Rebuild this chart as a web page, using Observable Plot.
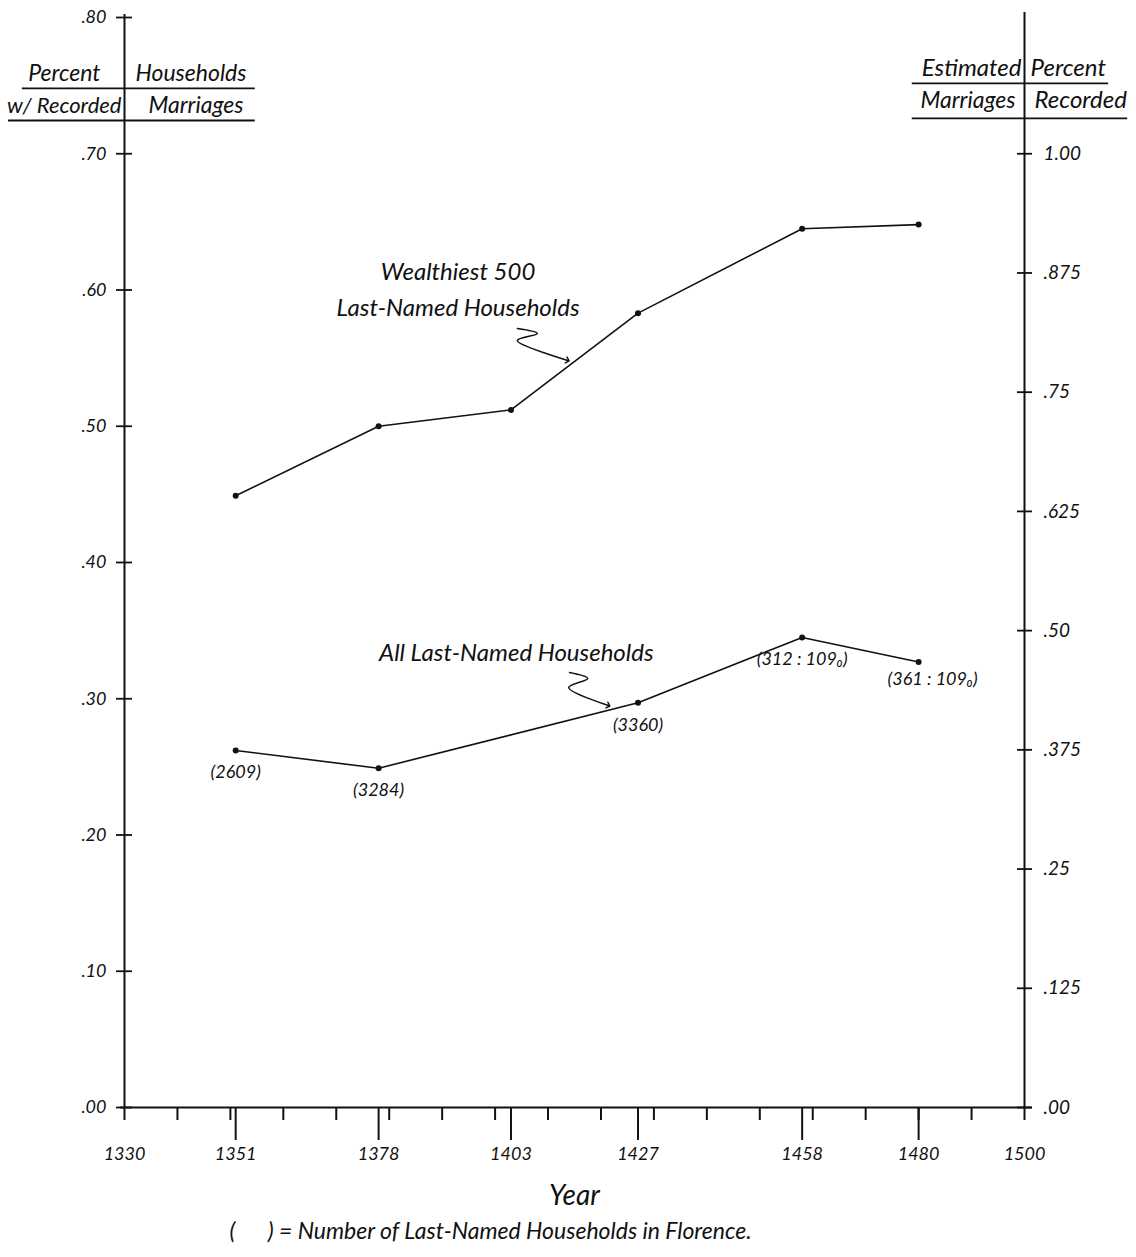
<!DOCTYPE html>
<html>
<head>
<meta charset="utf-8">
<script src="https://cdn.jsdelivr.net/npm/d3@7"></script>
<script src="https://cdn.jsdelivr.net/npm/@observablehq/plot@0.6"></script>
<style>
  html, body { margin: 0; padding: 0; background: #fff; }
  #chart svg { display: block; }
</style>
</head>
<body>
<div id="chart"></div>
<script>
// ---- data ----
const years = [1351, 1378, 1403, 1427, 1458, 1480];
const wealthiest = [0.449, 0.500, 0.512, 0.583, 0.645, 0.648];

const allYears = [1351, 1378, 1427, 1458, 1480];
const allHouseholds = [0.262, 0.249, 0.297, 0.345, 0.327];
const allCounts = ["(2609)", "(3284)", "(3360)", "(312 : 109\u2080)", "(361 : 109\u2080)"];

const leftTicks = [0, 0.1, 0.2, 0.3, 0.4, 0.5, 0.6, 0.7, 0.8];
const leftTickLabels = [".00", ".10", ".20", ".30", ".40", ".50", ".60", ".70", ".80"];

const rightTicks = [0, 0.125, 0.25, 0.375, 0.5, 0.625, 0.75, 0.875, 1.0];
const rightTickLabels = [".00", ".125", ".25", ".375", ".50", ".625", ".75", ".875", "1.00"];
const rightPerLeft = 0.70; // right-axis 1.00 lines up with left-axis .70

const xTickYears = [1330, 1351, 1378, 1403, 1427, 1458, 1480, 1500];
const xTickLabels = ["1330", "1351", "1378", "1403", "1427", "1458", "1480", "1500"];
const decadeTicks = [1330, 1340, 1350, 1360, 1370, 1380, 1390, 1400, 1410, 1420, 1430, 1440, 1450, 1460, 1470, 1480, 1490, 1500];

// ---- tables ----
const wData = years.map((year, i) => ({year, v: wealthiest[i]}));
const aData = allYears.map((year, i) => ({year, v: allHouseholds[i], label: allCounts[i]}));

const font = "Lato, 'Open Sans', 'DejaVu Sans', sans-serif";
const ink = "#111";

const chart = Plot.plot({
  width: 1136,
  height: 1257,
  marginLeft: 124,
  marginRight: 112,
  marginTop: 17,
  marginBottom: 150,
  x: {domain: [1330, 1500], axis: null},
  y: {domain: [0, 0.8], axis: null},
  style: {fontFamily: font, fontStyle: "italic", background: "#fff", color: ink},
  marks: [
    // axis lines
    Plot.ruleX([1330], {y1: 0.8, y2: 0, insetTop: -3, stroke: ink, strokeWidth: 2}),
    Plot.ruleX([1500], {y1: 0.8, y2: 0, insetTop: -5, stroke: ink, strokeWidth: 2}),
    Plot.ruleY([0], {x1: 1330, x2: 1500, insetLeft: -4, insetRight: -8, stroke: ink, strokeWidth: 2}),

    // x ticks
    Plot.ruleX(decadeTicks, {x: d => d, y1: 0, y2: 0, insetBottom: -13, stroke: ink, strokeWidth: 2}),
    Plot.ruleX(years, {x: d => d, y1: 0, y2: 0, insetBottom: -33, stroke: ink, strokeWidth: 2}),
    Plot.text(xTickYears, {x: d => d, y: 0, text: (d, i) => xTickLabels[i], dy: 47, fontSize: 18, fill: ink}),

    // left y ticks
    Plot.ruleY(leftTicks, {y: d => d, x1: 1330, x2: 1330, insetLeft: -8, insetRight: -8, stroke: ink, strokeWidth: 1.8}),
    Plot.text(leftTicks, {x: 1330, y: d => d, text: (d, i) => leftTickLabels[i], dx: -18, textAnchor: "end", fontSize: 18, fill: ink}),

    // right y ticks
    Plot.ruleY(rightTicks, {y: d => d * rightPerLeft, x1: 1500, x2: 1500, insetLeft: -7, insetRight: -8, stroke: ink, strokeWidth: 1.8}),
    Plot.text(rightTicks, {x: 1500, y: d => d * rightPerLeft, text: (d, i) => rightTickLabels[i], dx: 19, textAnchor: "start", fontSize: 19, fill: ink}),

    // header, left
    Plot.text(["Percent"], {frameAnchor: "top-left", dx: -24, dy: 63, textAnchor: "end", lineAnchor: "bottom", fontSize: 23, fill: ink}),
    Plot.text(["Households"], {frameAnchor: "top-left", dx: 11, dy: 63, textAnchor: "start", lineAnchor: "bottom", fontSize: 23, fill: ink}),
    Plot.text(["w/ Recorded"], {frameAnchor: "top-left", dx: -3, dy: 95, textAnchor: "end", lineAnchor: "bottom", fontSize: 22, fill: ink}),
    Plot.text(["Marriages"], {frameAnchor: "top-left", dx: 24, dy: 95, textAnchor: "start", lineAnchor: "bottom", fontSize: 23, fill: ink}),
    Plot.ruleY([0.748], {x1: 1310.7, x2: 1354.7, stroke: ink, strokeWidth: 1.8}),
    Plot.ruleY([0.7244], {x1: 1308.1, x2: 1354.7, stroke: ink, strokeWidth: 1.8}),

    // header, right
    Plot.text(["Estimated"], {frameAnchor: "top-right", dx: -3, dy: 58, textAnchor: "end", lineAnchor: "bottom", fontSize: 24, fill: ink}),
    Plot.text(["Percent"], {frameAnchor: "top-right", dx: 6, dy: 58, textAnchor: "start", lineAnchor: "bottom", fontSize: 24, fill: ink}),
    Plot.text(["Marriages"], {frameAnchor: "top-right", dx: -9, dy: 90, textAnchor: "end", lineAnchor: "bottom", fontSize: 23, fill: ink}),
    Plot.text(["Recorded"], {frameAnchor: "top-right", dx: 10, dy: 90, textAnchor: "start", lineAnchor: "bottom", fontSize: 24, fill: ink}),
    Plot.ruleY([0.7516], {x1: 1478.8, x2: 1515.9, stroke: ink, strokeWidth: 1.8}),
    Plot.ruleY([0.7259], {x1: 1478.8, x2: 1519.5, stroke: ink, strokeWidth: 1.8}),

    // series lines
    Plot.line(wData, {x: "year", y: "v", stroke: ink, strokeWidth: 1.6}),
    Plot.dot(wData, {x: "year", y: "v", r: 3, fill: ink}),
    Plot.line(aData, {x: "year", y: "v", stroke: ink, strokeWidth: 1.6}),
    Plot.dot(aData, {x: "year", y: "v", r: 3, fill: ink}),

    // household count labels
    Plot.text(aData.slice(0, 4), {x: "year", y: "v", text: "label", dy: 22, fontSize: 18, fill: ink}),
    Plot.text(aData.slice(4), {x: "year", y: "v", text: "label", dx: 14, dy: 17, fontSize: 18, fill: ink}),

    // series annotations
    Plot.text(["Wealthiest 500\nLast-Named Households"], {x: 1393, y: 0.581, lineAnchor: "bottom", lineHeight: 1.5, fontSize: 24, fill: ink}),
    Plot.line([[1404.2, 0.5717], [1408.0, 0.5681], [1404.2, 0.5629], [1413.7, 0.5483]],
      {curve: "catmull-rom", stroke: ink, strokeWidth: 1.5, markerEnd: "arrow"}),
    Plot.text(["All Last-Named Households"], {x: 1404, y: 0.328, lineAnchor: "bottom", fontSize: 24, fill: ink}),
    Plot.line([[1414.06, 0.3193], [1417.5, 0.3149], [1413.9, 0.3083], [1421.4, 0.2950]],
      {curve: "catmull-rom", stroke: ink, strokeWidth: 1.5, markerEnd: "arrow"}),

    // axis title and caption
    Plot.text(["Year"], {frameAnchor: "bottom", dy: 97, lineAnchor: "bottom", fontSize: 28, fill: ink}),
    Plot.text(["(      ) = Number of Last-Named Households in Florence."], {frameAnchor: "bottom", dx: -84, dy: 131, lineAnchor: "bottom", fontSize: 23, fill: ink})
  ]
});

document.getElementById("chart").append(chart);
</script>
</body>
</html>
